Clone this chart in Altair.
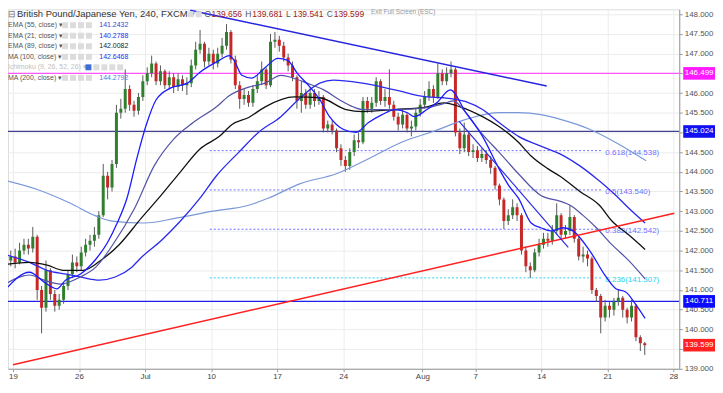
import altair as alt
import pandas as pd

# ---------------- candles: 8-hour steps, 3 per trading day; day 0 = Jun 19 ----------------
BAR_START = -0.5
BARS_PER_DAY = 3
first_open = 141.7
closes = [141.75, 141.85, 141.7, 142.0, 142.15, 142.05, 142.35, 141.0, 140.55, 141.5,
          140.9, 140.6, 140.75, 141.1, 141.4, 141.7, 141.6, 141.95, 142.15, 142.25,
          142.4, 142.9, 143.9, 143.6, 144.2, 145.5, 145.6, 146.1, 145.7, 145.55,
          145.9, 146.3, 146.5, 146.75, 146.3, 146.55, 146.2, 146.4, 146.15, 146.35,
          146.2, 146.25, 146.7, 147.1, 147.25, 146.8, 147.0, 146.75, 147.0, 147.2,
          147.55, 146.85, 146.2, 145.85, 145.95, 145.75, 146.1, 146.3, 146.6, 146.2,
          147.3, 147.35, 147.2, 146.9, 146.7, 146.4, 145.8, 146.0, 145.7, 146.0,
          145.8, 145.9, 145.1, 145.2, 145.05, 144.6, 144.3, 144.15, 144.5, 144.8,
          144.75, 145.8, 145.6, 145.75, 146.3, 145.8, 145.9, 145.7, 145.4, 145.2,
          145.45, 145.1, 145.15, 145.5, 145.7, 145.9, 146.1, 145.9, 146.5, 146.3,
          146.5, 146.6, 145.0, 144.6, 144.95, 144.5, 144.55, 144.35, 144.45, 144.3,
          144.1, 143.65, 143.3, 142.75, 142.9, 143.1, 142.9, 142.0, 141.6, 141.5,
          141.95, 142.15, 142.3, 142.25, 142.5, 142.9, 142.4, 142.5, 142.85, 142.3,
          141.85, 141.9, 141.8, 141.0, 140.85, 140.3, 140.6, 140.5, 140.7, 140.8,
          140.5, 140.3, 140.6, 139.8, 139.65, 139.6]
highs = [141.9, 142.0, 142.05, 142.2, 142.3, 142.3, 142.6, 142.4, 141.1, 141.75,
         141.55, 141.0, 140.9, 141.2, 141.5, 141.9, 141.85, 142.1, 142.3, 142.4,
         142.6, 143.0, 144.2, 144.0, 144.3, 145.7, 145.85, 146.6, 146.2, 145.8,
         146.0, 146.45, 146.65, 146.95, 146.8, 146.7, 146.6, 146.55, 146.5, 146.5,
         146.45, 146.4, 146.85, 147.3, 147.6, 147.3, 147.15, 147.1, 147.15, 147.4,
         147.75, 147.6, 146.95, 146.3, 146.1, 146.05, 146.2, 146.45, 146.8, 146.65,
         147.5, 147.55, 147.45, 147.3, 147.0, 146.8, 146.45, 146.3, 146.1, 146.15,
         146.1, 146.05, 145.95, 145.3, 145.3, 145.1, 144.7, 144.4, 144.6, 144.95,
         145.0, 145.9, 145.9, 145.9, 146.4, 146.35, 146.1, 146.6, 145.8, 145.5,
         145.6, 145.5, 145.3, 145.6, 145.85, 146.05, 146.3, 146.2, 146.75, 146.6,
         146.65, 146.8, 146.65, 145.1, 145.25, 145.0, 144.7, 144.65, 144.6, 144.55,
         144.4, 144.15, 143.7, 143.35, 143.05, 143.3, 143.2, 142.95, 142.1, 141.7,
         142.05, 142.3, 142.45, 142.45, 142.65, 143.2, 142.95, 142.65, 143.15, 142.9,
         142.35, 142.1, 142.0, 141.85, 141.05, 140.9, 140.75, 140.7, 140.8, 141.0,
         140.85, 140.55, 140.75, 140.65, 139.85, 139.68]
lows = [141.55, 141.6, 141.55, 141.65, 141.9, 141.9, 141.95, 140.75, 139.9, 140.45,
        140.75, 140.45, 140.5, 140.65, 141.0, 141.3, 141.45, 141.5, 141.85, 142.0,
        142.1, 142.3, 142.85, 143.3, 143.5, 144.1, 145.35, 145.5, 145.55, 145.4,
        145.45, 145.8, 146.2, 146.4, 146.2, 146.2, 146.1, 146.1, 146.0, 146.05,
        146.05, 145.95, 146.15, 146.6, 147.0, 146.65, 146.7, 146.6, 146.65, 146.9,
        147.1, 146.75, 146.1, 145.6, 145.7, 145.65, 145.65, 146.0, 146.2, 146.1,
        146.15, 147.15, 147.05, 146.8, 146.55, 146.3, 145.6, 145.5, 145.6, 145.6,
        145.65, 145.7, 145.0, 145.0, 144.95, 144.5, 144.15, 144.0, 144.05, 144.4,
        144.6, 144.7, 145.5, 145.5, 145.65, 145.7, 145.65, 145.6, 145.3, 145.05,
        145.1, 145.0, 144.9, 145.05, 145.4, 145.6, 145.8, 145.75, 145.85, 146.2,
        146.2, 146.4, 144.9, 144.45, 144.5, 144.4, 144.35, 144.25, 144.25, 144.2,
        143.95, 143.55, 143.15, 142.55, 142.65, 142.8, 142.75, 141.9, 141.45, 141.3,
        141.45, 141.85, 142.05, 142.1, 142.15, 142.4, 142.3, 142.3, 142.4, 142.2,
        141.75, 141.7, 141.6, 140.9, 140.7, 139.9, 140.2, 140.3, 140.35, 140.6,
        140.3, 140.15, 140.2, 139.7, 139.45, 139.35]

# ---------------- indicator lines (trading day, price) ----------------
ema21 = [(-0.59, 141.0), (1.25, 141.45), (2.36, 141.2), (3.32, 141.03), (3.98, 141.25),
         (5.09, 141.4), (6.27, 141.78), (7.15, 142.2), (7.89, 142.7), (8.63, 143.33),
         (9.37, 144.33), (10.1, 145.2), (10.84, 145.83), (11.95, 146.13), (13.2, 146.25),
         (14.16, 146.53), (15.63, 146.83), (16.37, 146.95), (16.74, 146.83), (17.33, 146.45),
         (18.07, 146.38), (19.1, 146.65), (20.06, 146.88), (20.8, 146.83), (21.53, 146.5),
         (22.49, 146.15), (23.23, 145.83), (23.97, 145.4), (25.0, 145.08), (25.96, 145.0),
         (26.92, 145.25), (27.95, 145.45), (28.91, 145.58), (29.87, 145.5), (30.38, 145.4),
         (31.34, 145.58), (32.08, 145.75), (33.11, 146.08), (34.29, 145.5), (35.55, 144.9),
         (36.8, 144.08), (37.54, 143.65), (38.27, 143.33), (39.23, 142.7), (39.97, 142.58),
         (40.71, 142.5), (41.67, 142.58), (42.4, 142.5), (43.66, 142.0), (44.91, 141.33),
         (45.65, 141.03), (46.39, 140.95), (47.12, 140.65), (47.86, 140.28)]
ema55 = [(-0.59, 141.15), (1.25, 141.38), (2.36, 141.25), (3.61, 141.15), (5.09, 141.33),
         (6.27, 141.58), (7.52, 142.13), (9.22, 143.08), (10.69, 144.15), (12.17, 144.83),
         (13.64, 145.25), (15.41, 145.65), (16.37, 145.93), (17.85, 146.15), (19.1, 146.25),
         (20.28, 146.45), (21.02, 146.4), (22.27, 146.25), (23.53, 146.08), (24.71, 145.83),
         (25.74, 145.65), (26.47, 145.58), (28.91, 145.58), (31.34, 145.63), (32.6, 145.73),
         (33.33, 145.8), (34.29, 145.5), (35.55, 144.95), (36.8, 144.5), (38.27, 143.95),
         (39.97, 143.4), (41.45, 143.25), (42.18, 143.15), (43.14, 142.9), (44.17, 142.58),
         (45.35, 142.15), (46.61, 141.75), (47.86, 141.28)]
ema89 = [(-0.59, 141.65), (1.25, 141.7), (2.58, 141.63), (3.83, 141.5), (5.31, 141.5),
         (6.56, 141.73), (8.04, 142.15), (9.73, 142.83), (11.21, 143.4), (12.68, 144.0),
         (14.16, 144.58), (15.63, 144.9), (16.59, 145.2), (17.85, 145.38), (19.1, 145.65),
         (21.31, 145.9), (23.23, 145.88), (25.22, 145.58), (26.47, 145.53), (28.91, 145.58),
         (31.34, 145.65), (32.6, 145.75), (33.85, 145.65), (35.55, 145.4), (36.8, 145.15),
         (38.27, 144.75), (39.23, 144.4), (40.49, 144.08), (41.45, 143.88), (42.92, 143.5),
         (44.4, 143.15), (45.35, 142.75), (46.61, 142.4), (47.86, 142.03)]
ma100 = [(-0.59, 141.9), (1.25, 141.7), (2.58, 141.5), (4.06, 141.4), (5.09, 141.33),
         (6.56, 141.25), (7.74, 141.33), (9.0, 141.58), (9.73, 141.83), (11.21, 142.25),
         (12.68, 142.75), (14.16, 143.33), (15.41, 143.9), (17.11, 144.5), (18.58, 145.0),
         (20.28, 145.4), (21.76, 145.88), (23.23, 146.25), (24.26, 146.33), (26.47, 146.25),
         (28.91, 146.08), (31.34, 145.9), (32.6, 145.88), (34.29, 145.78), (35.55, 145.58),
         (36.8, 145.25), (38.27, 144.9), (39.97, 144.65), (41.45, 144.45), (42.92, 144.15),
         (44.17, 143.83), (45.65, 143.4), (46.61, 143.08), (47.86, 142.7)]
ma200 = [(-0.59, 143.78), (1.84, 143.55), (4.35, 143.2), (6.27, 142.88), (7.52, 142.75),
         (9.96, 142.7), (12.46, 142.83), (15.12, 143.0), (17.85, 143.15), (19.32, 143.33),
         (21.76, 143.7), (24.48, 143.95), (26.92, 144.33), (29.42, 144.75), (31.86, 145.03),
         (34.29, 145.33), (36.8, 145.5), (38.27, 145.5), (39.97, 145.45), (41.45, 145.33),
         (43.66, 145.08), (45.87, 144.7), (47.94, 144.28)]

# drawn trend lines (two end points each)
trend_top = [(13.42, 148.1), (40.41, 146.18)]
trend_red = [(0.0, 139.1), (50.07, 142.95)]
trend_down = [(33.78, 145.28), (42.04, 142.08)]

# horizontal levels
levels = [146.499, 145.024, 140.711]
level_colors = ['#ff55ff', '#40408f', '#1f1fe8']

# fibonacci levels
fib_values = [144.538, 143.540, 142.542, 141.307]
fib_texts = ['0.618(144.538)', '0.5(143.540)', '0.382(142.542)', '0.236(141.307)']
fib_colors = ['#7070ff', '#7070ff', '#7070ff', '#27d3ee']
FIB_FROM, FIB_TO, FIB_LABEL_DAY = 14.9, 44.6, 44.85

# price tags on the right axis
tag_values = [146.499, 145.024, 140.711, 139.599]
tag_colors = ['#ff1aff', '#1010f0', '#0a0aff', '#ff2020']

# axis ticks
TICK_DAYS = [0, 5, 10, 15, 20, 25, 31, 35, 40, 45, 50]
TICK_TEXT = ['19', '26', 'Jul', '10', '17', '24', 'Aug', '7', '14', '21', '28']
PRICE_TICKS = [139 + 0.5 * i for i in range(19)]

# legend
leg_names = ['EMA (55, close) \u25be', 'EMA (21, close) \u25be', 'EMA (89, close) \u25be',
             'MA (100, close) \u25be', 'Ichimoku (9, 26, 52, 26) \u25be', 'MA (200, close) \u25be']
leg_values = ['141.2432', '140.2788', '142.0082', '142.6468', '', '144.2792']
leg_colors = ['#4040c8', '#2b2bf0', '#222222', '#2b2bf0', '#bbbbbb', '#5a7ad8']
ohlc_letters = ['O', 'H', 'L', 'C']
ohlc_values = ['139.656', '139.681', '139.541', '139.599']

FONT = 'Liberation Sans'
W, H = 676, 362
X_MAX = 50.07
Y_MIN, Y_MAX = 139.0, 148.125

# ---------------- build ----------------
days = [BAR_START + i / BARS_PER_DAY for i in range(len(closes))]
opens = [first_open] + closes[:-1]
candles = pd.DataFrame({'d': days, 'o': opens, 'h': highs, 'l': lows, 'c': closes})
candles['dir'] = ['up' if c >= o else 'down' for o, c in zip(opens, closes)]

xs = alt.Scale(domain=[0, X_MAX], nice=False, zero=False)
ys = alt.Scale(domain=[Y_MIN, Y_MAX], nice=False, zero=False)

x_expr = ' : '.join(f"datum.value == {d} ? '{t}'" for d, t in zip(TICK_DAYS, TICK_TEXT)) + " : ''"
xaxis = alt.Axis(values=TICK_DAYS, labelExpr=x_expr, grid=True, gridColor='#ececec',
                 tickSize=3, tickColor='#999', domainColor='#999', labelColor='#444',
                 labelFontSize=8, labelPadding=1, labelFont=FONT, title=None)
yaxis = alt.Axis(orient='right', values=PRICE_TICKS,
                 labelExpr="(datum.value == 146.5 || datum.value == 145 || datum.value == 139.5) ? '' : format(datum.value, '.3f')",
                 grid=True, gridColor='#ececec', tickSize=3, tickColor='#999', domainColor='#999',
                 labelColor='#555', labelFontSize=8, labelPadding=2, labelFont=FONT, title=None)


def X(f):
    return alt.X(f, type='quantitative', scale=xs, axis=xaxis, title=None)


def Y(f):
    return alt.Y(f, type='quantitative', scale=ys, axis=yaxis, title=None)


layers = []

# fib dotted segments and labels
fib_df = pd.DataFrame({'p': fib_values, 't': fib_texts, 'col': fib_colors,
                       'a': [FIB_FROM] * 4, 'b': [FIB_TO] * 4, 'lx': [FIB_LABEL_DAY] * 4})
layers.append(alt.Chart(fib_df).mark_rule(strokeDash=[2, 2], strokeWidth=1, clip=True).encode(
    x=X('a'), x2='b', y=Y('p'), color=alt.Color('col:N', scale=None)))
layers.append(alt.Chart(fib_df).mark_text(align='left', baseline='middle', dy=2, fontSize=8, font=FONT).encode(
    x=X('lx'), y=Y('p'), text='t:N', color=alt.Color('col:N', scale=None)))

# horizontal levels
lev_df = pd.DataFrame({'p': levels, 'col': level_colors})
layers.append(alt.Chart(lev_df).mark_rule(strokeWidth=1.2, clip=True).encode(
    y=Y('p'), color=alt.Color('col:N', scale=None)))

# candles
cs = alt.Scale(domain=['up', 'down'], range=['#2f7f2f', '#c62828'])
layers.append(alt.Chart(candles).mark_rule(color='#5a5a5a', strokeWidth=1, clip=True).encode(
    x=X('d'), y=Y('l'), y2='h'))
layers.append(alt.Chart(candles).mark_bar(size=3, clip=True).encode(
    x=X('d'), y=Y('o'), y2='c', color=alt.Color('dir:N', scale=cs, legend=None)))

# indicator lines
for pts, col, sw in [(ma200, '#7a98d8', 1.2), (ma100, '#2a2aee', 1.3), (ema89, '#111111', 1.3),
                     (ema55, '#5252a6', 1.2), (ema21, '#1c1cff', 1.3)]:
    df = pd.DataFrame(pts, columns=['d', 'p'])
    layers.append(alt.Chart(df).mark_line(color=col, strokeWidth=sw, interpolate='monotone', clip=True).encode(
        x=X('d'), y=Y('p')))

# trend lines
for pts, col, sw in [(trend_top, '#2424e0', 1.5), (trend_red, '#ff2020', 1.5), (trend_down, '#2a2ae8', 1.2)]:
    df = pd.DataFrame(pts, columns=['d', 'p'])
    layers.append(alt.Chart(df).mark_line(color=col, strokeWidth=sw, clip=True).encode(x=X('d'), y=Y('p')))

# price tags on right axis
tag_df = pd.DataFrame({'p': tag_values, 'col': tag_colors, 't': [f'{v:.3f}' for v in tag_values]})
layers.append(alt.Chart(tag_df).transform_calculate(top='datum.p + 0.16', bot='datum.p - 0.16').mark_rect().encode(
    x=alt.value(W + 4), x2=alt.value(W + 36), y=Y('top'), y2='bot', color=alt.Color('col:N', scale=None)))
layers.append(alt.Chart(tag_df).mark_text(color='white', fontSize=8, font=FONT, baseline='middle', align='center').encode(
    x=alt.value(W + 20), y=Y('p'), text='t:N'))


def label(txt, x, y, color='#555', size=7, align='left', baseline='middle', weight='normal'):
    return alt.Chart(pd.DataFrame({'t': [txt]})).mark_text(
        align=align, baseline=baseline, fontSize=size, font=FONT, color=color, fontWeight=weight).encode(
        x=alt.value(x), y=alt.value(y), text='t:N')


def square(x, y, color):
    return alt.Chart(pd.DataFrame({'t': [0]})).mark_square(size=36, color=color, opacity=1).encode(
        x=alt.value(x), y=alt.value(y))


# title row
layers.append(label('\u229f', 0, 5, '#777', 9))
layers.append(label('British Pound/Japanese Yen, 240, FXCM \u25be', 9, 5, '#333', 9.5))
layers.append(square(184, 5, '#dcdcdc'))
layers.append(square(192, 5, '#dcdcdc'))
ohlc_x = [198, 239, 280, 321]
for lx, letter, val in zip(ohlc_x, ohlc_letters, ohlc_values):
    layers.append(label(letter, lx, 5, '#555', 8.5))
    layers.append(label(val, lx + 7, 5, '#a01c1c', 8.5))
layers.append(label('Exit Full Screen (ESC)', 398, 0, '#999', 6.5, align='center', baseline='top'))

# indicator legend rows
for i, (nm, val, col) in enumerate(zip(leg_names, leg_values, leg_colors)):
    ry = 16 + i * 10.6
    ich = nm.startswith('Ichimoku')
    layers.append(label(nm, 0, ry, '#c0c0c0' if ich else '#555', 7))
    sx0 = 81 if ich else 57.5
    for j in range(5 if ich else 4):
        layers.append(square(sx0 + 8 * j, ry, '#3b6fd6' if (ich and j == 0) else '#dcdcdc'))
    if val:
        layers.append(label(val, 92, ry, col, 7))

chart = alt.layer(*layers).properties(width=W, height=H, padding=0).configure_view(
    stroke=None).configure(background='white')

chart.save('out.html', embed_options={'renderer': 'svg', 'actions': False})
